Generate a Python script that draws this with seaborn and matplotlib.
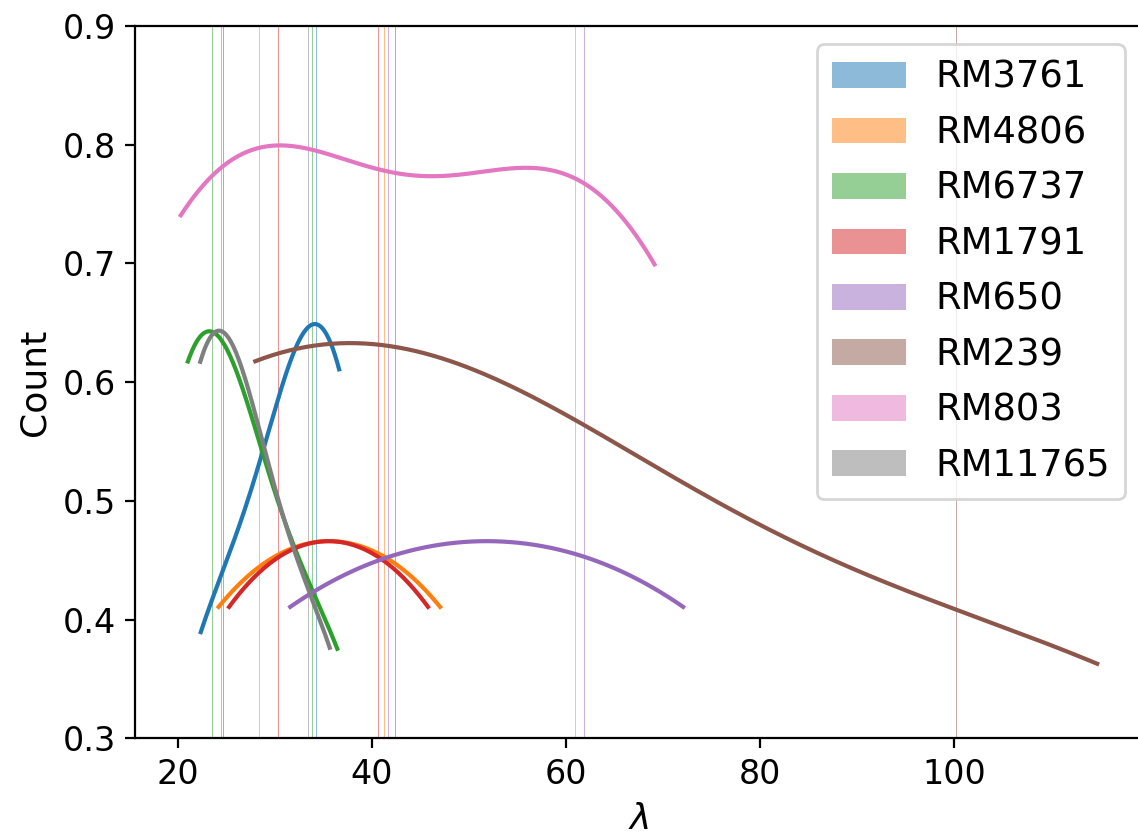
import matplotlib
matplotlib.use("Agg")
import matplotlib.pyplot as plt
import pandas as pd
import seaborn as sns

# lambda values observed for each RM cluster
rm3761 = [22.38, 33.6, 36.64]
rm4806 = [24.22, 47.05]
rm6737 = [21.05, 23.5, 36.45]
rm1791 = [25.3, 45.8]
rm650 = [31.6, 72.1]
rm239 = [28.0, 37.0, 114.78]
rm803 = [20.32, 27.0, 59.0, 69.15]
rm11765 = [22.33, 24.5, 35.67]

clusters = ["RM3761", "RM4806", "RM6737", "RM1791",
            "RM650", "RM239", "RM803", "RM11765"]
cluster_values = [rm3761, rm4806, rm6737, rm1791,
                  rm650, rm239, rm803, rm11765]

df = pd.DataFrame({
    "lam": [v for vals in cluster_values for v in vals],
    "RM": [c for c, vals in zip(clusters, cluster_values) for _ in vals],
})

fig = plt.figure(figsize=(1138 / 200, 836 / 200), dpi=200)
ax = fig.add_axes([0.1186, 0.1169, 0.8858, 0.8523])

sns.histplot(
    data=df, x="lam", hue="RM", hue_order=clusters,
    kde=True, common_bins=False, common_norm=False,
    shrink=0.005, linewidth=0, ax=ax,
)

# draw every bar as a hairline centred on its bin
bar_w = 0.1
for bar in ax.patches:
    cx = bar.get_x() + bar.get_width() / 2
    bar.set_x(cx - bar_w / 2)
    bar.set_width(bar_w)

# later clusters' density curves sit on top of earlier ones
for z, line in enumerate(reversed(ax.lines)):
    line.set_zorder(2 + 0.01 * z)

ax.set_ylim(0.3, 0.9)
ax.set_xlabel(r"$\lambda$", fontsize=13)
ax.set_ylabel("Count", fontsize=13)
ax.tick_params(labelsize=12)
sns.move_legend(ax, "upper right", title=None, fontsize=13.3)

fig.savefig("out.png", dpi=200)
